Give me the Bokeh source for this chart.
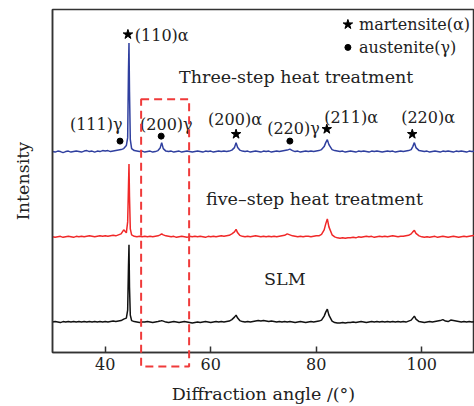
from bokeh.plotting import figure
from bokeh.models import Range1d, FixedTicker, ColumnDataSource
from bokeh.core.properties import value
from bokeh.embed import file_html
from bokeh.resources import INLINE

# ---------------- data ----------------
two_theta = [
    30.0, 30.5, 31.0, 31.5, 32.0, 32.5, 33.0, 33.5, 34.0, 34.5,
    35.0, 35.5, 36.0, 36.5, 37.0, 37.5, 38.0, 38.5, 39.0, 39.5,
    40.0, 40.5, 41.0, 41.5, 42.0, 42.5, 43.0, 43.5, 44.0, 44.25,
    44.4, 44.5, 44.6, 44.75, 45.0, 45.5, 46.0, 46.5, 47.0, 47.5,
    48.0, 48.5, 49.0, 49.5, 50.0, 50.4, 50.7, 51.0, 51.5, 52.0,
    52.5, 53.0, 53.5, 54.0, 54.5, 55.0, 55.5, 56.0, 56.5, 57.0,
    57.5, 58.0, 58.5, 59.0, 59.5, 60.0, 60.5, 61.0, 61.5, 62.0,
    62.5, 63.0, 63.5, 64.0, 64.5, 64.8, 65.1, 65.5, 66.0, 66.5,
    67.0, 67.5, 68.0, 68.5, 69.0, 69.5, 70.0, 70.5, 71.0, 71.5,
    72.0, 72.5, 73.0, 73.5, 74.0, 74.5, 75.0, 75.5, 76.0, 76.5,
    77.0, 77.5, 78.0, 78.5, 79.0, 79.5, 80.0, 80.5, 81.0, 81.5,
    81.8, 82.1, 82.4, 83.0, 83.5, 84.0, 84.5, 85.0, 85.5, 86.0,
    86.5, 87.0, 87.5, 88.0, 88.5, 89.0, 89.5, 90.0, 90.5, 91.0,
    91.5, 92.0, 92.5, 93.0, 93.5, 94.0, 94.5, 95.0, 95.5, 96.0,
    96.5, 97.0, 97.5, 98.0, 98.3, 98.6, 98.9, 99.5, 100.0, 100.5,
    101.0, 101.5, 102.0, 102.5, 103.0, 103.5, 104.0, 104.5, 105.0, 105.5,
    106.0, 106.5, 107.0, 107.5, 108.0, 108.5, 109.0, 109.5, 110.0,
]

three_step = [
    0, -0.5, 0.5, 0, -1, 0, 0.5, -0.5, 0, 0.5,
    0, -0.5, 0.5, 1, 0, 0.5, -0.5, 0.5, 0, 1,
    0.5, 1, 0, 0.5, 1, 1.5, 2, 3, 6, 14,
    80, 109, 60, 12, 3, 1, 0.5, 0, 0.5, -0.5,
    0, 0.5, -0.5, 0, 1, 3.5, 9, 3, 0.5, 0,
    0.5, -0.5, 0, 0.5, -0.5, 0, 0.5, 0, -0.5, 0,
    0.5, 0, -0.5, 0.5, 0, 0.5, -0.5, 0, 0.5, 0,
    0.5, 0, 0.5, 1.5, 4, 9, 4, 1.5, 0.5, 0,
    0.5, -0.5, 0, 0.5, 0, -0.5, 0.5, 0, 0.5, -0.5,
    0, 0.5, 0, 0.5, 1, 1.5, 2.5, 1, 0, 0.5,
    -0.5, 0, 0.5, 0, 0.5, 0, 0.5, 1, 2, 5,
    9, 12, 7, 2, 1, 0.5, 0, 0.5, -0.5, 0,
    0.5, 0, -0.5, 0.5, 0, 0.5, 0, -0.5, 0.5, 0,
    0.5, 0, -0.5, 0, 0.5, 0, 0.5, -0.5, 0, 0.5,
    0, 0.5, 1, 2, 5, 9, 4, 1, 0.5, 0,
    0.5, -0.5, 0, 0.5, 0, -0.5, 0.5, 0, 0.5, 0,
    -0.5, 0.5, 0, 0.5, 0, -0.5, 0.5, 0, 0.5,
]

five_step = [
    0, -0.5, 0, 0.5, -0.5, 0, 0.5, 0, -0.5, 0.5,
    0, 0.5, 0, 0.5, 1, 0.5, 0, 0.5, 1, 0.5,
    1, 0.5, 1, 1.5, 1, 2, 3, 7, 4, 15,
    50, 73, 40, 8, 2, 0.5, 0, 0.5, 0, 0.5,
    0, 0.5, 0, 0.5, 1, 2, 3, 2, 1, 0.5,
    0, 0.5, -0.5, 0, 0.5, 0, -0.5, 0.5, 0, 0.5,
    0, 0.5, 0, -0.5, 0.5, 0, 0.5, 0, 0.5, 1,
    0.5, 1, 1.5, 3, 5, 7.5, 4, 1.5, 0.5, 0,
    0.5, 0, 0.5, 1, 0.5, 0, 0.5, 0, 0.5, 0,
    0.5, 0, 0.5, 1, 1.5, 3, 2, 1, 0.5, 0,
    0.5, 0, 0.5, 0.5, 0, 0.5, 1, 1, 2.5, 7,
    13, 18, 10, 2, 0, -1, -1.5, -1, -1.5, -1,
    -1, -0.5, -1, 0, -0.5, 0, 0.5, 0, 0.5, -0.5,
    0, 0.5, 0, 0.5, 0, 0.5, 1, 0.5, 0, 0.5,
    0.5, 1, 1.5, 3, 5, 6.5, 3.5, 1, 0, -0.5,
    0, -0.5, 0, 0.5, -0.5, 0, 0.5, 0, -0.5, 0,
    0.5, 0, -0.5, 0, 0.5, 0, 0.5, 1, 1.5,
]

slm = [
    0, 0.5, 0, -0.5, 0.5, 0, 0.5, 0, 0.5, 0,
    0.5, 0, 0.5, 0, 0.5, 0, 0.5, 0, 0.5, 0,
    0.5, 0, 0.5, 1, 0.5, 1, 1.5, 3, 4, 12,
    55, 77.5, 35, 7, 1.5, 0.5, 0, -0.5, 0, 0,
    0.5, 0, -0.5, 0, 0.5, 1, 1.5, 1, 0, -0.5,
    0, 0.5, 0, -0.5, 0, 0.5, 0, -0.5, -1, -0.5,
    0, -0.5, 0, 0.5, 0, -0.5, 0, 0.5, 0, 0.5,
    0, 0.5, 1, 2.5, 5, 7, 4, 1.5, 0.5, 0,
    0.5, 0, 0.5, 1, 1.5, 1, 1.5, 1, 0.5, 1,
    0.5, 0, 0.5, 0, 0.5, 0, 0.5, 0, -0.5, 0,
    0.5, 0, -0.5, 0, 0.5, 0, 0.5, 1, 2, 6,
    10, 13, 7, 1, -0.5, -1, -1, -0.5, -1, -0.5,
    -0.5, 0, -0.5, 0, 0.5, 0, -0.5, 0, 0.5, 0,
    0.5, 0, 0.5, 0, 0.5, 0, 0.5, 0, 0.5, 0,
    0.5, 0, 1, 2, 4, 6, 3, 0.5, 0, -0.5,
    0, 0.5, 0, 0.5, 1, 1.5, 2.5, 1, 0.5, 2,
    1.5, 1, 0.5, 0, 0.5, 0, 0.5, 0, 0.5,
]

# vertical stacking offsets (a.u.)
offset_slm = 30.5
offset_five = 116.0
offset_three = 201.5

x_ticks = [40, 60, 80, 100]

# peak labels
peak_labels = ["(111)γ", "(200)γ", "(220)γ", "(110)α", "(200)α", "(211)α", "(220)α"]
peak_label_x = [33.3, 46.6, 70.7, 45.6, 59.5, 81.5, 96.1]
peak_label_y = [229, 229, 225, 318, 234, 236, 236]

gamma_mark_x = [42.8, 50.6, 75.0]
gamma_mark_y = [212, 217, 212]
alpha_mark_x = [44.3, 64.8, 82.0, 98.2]
alpha_mark_y = [319, 219, 224, 219]

series_names = ["Three-step heat treatment", "five\u2013step heat treatment", "SLM"]
series_name_x = [54.0, 59.1, 70.1]
series_name_y = [276, 154, 74]

legend_names = ["martensite(α)", "austenite(γ)"]
legend_x = 86.0
legend_text_x = 88.1
legend_y = [329, 306]

# highlighted region (2θ)
box_left, box_right = 46.8, 55.9
box_bottom, box_top = -14, 254

# ---------------- plot ----------------
SERIF = "DejaVu Serif"
AX = "#333333"

p = figure(width=474, height=406, output_backend="svg", toolbar_location=None,
           x_range=Range1d(30, 110), y_range=Range1d(0, 344),
           min_border_left=52, min_border_right=0, min_border_top=9,
           min_border_bottom=53)
p.xgrid.visible = False
p.ygrid.visible = False
p.outline_line_color = AX
p.outline_line_width = 1.5
p.background_fill_color = "white"
p.border_fill_color = "white"

xa = p.xaxis[0]
xa.ticker = FixedTicker(ticks=x_ticks)
xa.minor_tick_line_color = None
xa.major_tick_in = 6
xa.major_tick_out = 0
xa.major_tick_line_color = AX
xa.major_tick_line_width = 1.5
xa.axis_line_color = AX
xa.axis_line_width = 1.5
xa.major_label_text_font = SERIF
xa.major_label_text_font_size = "16px"
xa.major_label_text_color = "#222222"
xa.major_label_standoff = 5
xa.axis_label = "Diffraction angle /(°)"
xa.axis_label_text_font = SERIF
xa.axis_label_text_font_size = "17.5px"
xa.axis_label_text_font_style = "normal"
xa.axis_label_text_color = "#222222"
xa.axis_label_standoff = 11

ya = p.yaxis[0]
ya.ticker = FixedTicker(ticks=[])
ya.minor_tick_line_color = None
ya.major_tick_line_color = None
ya.major_label_text_font_size = "0px"
ya.axis_line_color = AX
ya.axis_line_width = 1.5
ya.axis_label = "Intensity"
ya.axis_label_text_font = SERIF
ya.axis_label_text_font_size = "17.5px"
ya.axis_label_text_font_style = "normal"
ya.axis_label_text_color = "#222222"
ya.axis_label_standoff = 20

src = ColumnDataSource(dict(
    x=two_theta,
    three=[v + offset_three for v in three_step],
    five=[v + offset_five for v in five_step],
    slm=[v + offset_slm for v in slm],
))
p.line("x", "slm", source=src, line_color="#111111", line_width=1.5)
p.line("x", "five", source=src, line_color="#f02828", line_width=1.5)
p.line("x", "three", source=src, line_color="#2f3f9f", line_width=1.5)

p.quad(left=[box_left], right=[box_right], bottom=[box_bottom], top=[box_top],
       fill_color=None, line_color="#f03a3a", line_width=2, line_dash="8 5",
       level="overlay")

p.scatter(alpha_mark_x, alpha_mark_y, marker="star", size=10, color="black")
p.scatter(gamma_mark_x, gamma_mark_y, marker="circle", size=6, color="black")
p.text(peak_label_x, peak_label_y, text=peak_labels, text_font=value(SERIF),
       text_font_size="16px", text_baseline="middle", text_align="left",
       text_color="#222222")
p.text(series_name_x, series_name_y, text=series_names, text_font=value(SERIF),
       text_font_size="17.5px", text_baseline="middle", text_align="left",
       text_color="#222222")

p.scatter([legend_x], [legend_y[0]], marker="star", size=10, color="black")
p.scatter([legend_x], [legend_y[1]], marker="circle", size=6, color="black")
p.text([legend_text_x] * 2, legend_y, text=legend_names, text_font=value(SERIF),
       text_font_size="16px", text_baseline="middle", text_align="left",
       text_color="#222222")

open("out.html", "w").write(file_html(p, INLINE))
